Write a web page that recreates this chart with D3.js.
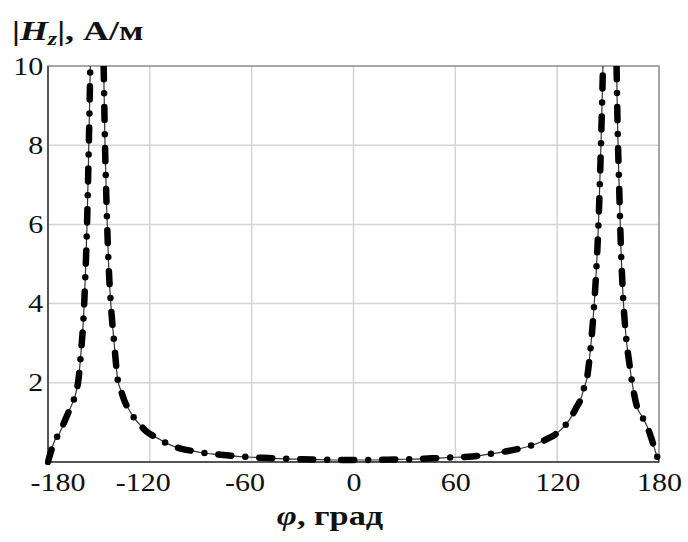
<!DOCTYPE html>
<html>
<head>
<meta charset="utf-8">
<script src="https://cdn.jsdelivr.net/npm/d3@7"></script>
<style>
  body { margin: 0; background: #fff; }
</style>
</head>
<body>
<script>
// angle, degrees (null in hz breaks the line at the poles)
const phi = [-180, -178, -176, -173.5, -171, -168, -165.5, -163.5, -162, -160.5, -159, -158, -157, -156.2, -155.5, -155.1,
  -151,
  -147.2, -146.5, -145.5, -144.3, -143, -141, -139, -137, -135, -132, -129, -125, -122, -118, -114, -110, -105, -100, -95, -90,
  -80, -70, -60, -50, -40, -30, -20, -10, 0, 10, 20, 30, 40, 50, 60, 70, 80, 90, 100, 110, 115, 119, 123, 127, 131, 134, 136,
  137.5, 139.5, 141.5, 143, 144.5, 145.8, 147,
  151,
  155, 155.6, 156.5, 157.5, 158.8, 160.5, 162.5, 164, 167, 170, 173, 175.5, 178, 180];
const hz = [0, 0.3, 0.55, 0.7, 0.95, 1.25, 1.5, 1.75, 2.1, 2.8, 3.7, 4.7, 6.0, 7.5, 9.0, 10,
  null,
  10, 8.2, 6.5, 5.0, 4.0, 3.0, 2.1, 1.8, 1.55, 1.3, 1.1, 0.9, 0.77, 0.66, 0.57, 0.47, 0.38, 0.32, 0.28, 0.24,
  0.19, 0.15, 0.12, 0.10, 0.08, 0.07, 0.06, 0.05, 0.05, 0.05, 0.06, 0.07, 0.08, 0.10, 0.12, 0.14, 0.2, 0.27, 0.36, 0.5, 0.6, 0.7, 0.85, 1.05, 1.35, 1.6, 1.9,
  2.1, 2.8, 3.8, 4.8, 6.2, 8.0, 10,
  null,
  10, 8.5, 7.0, 5.5, 4.2, 3.2, 2.5, 2.05, 1.4, 1.15, 0.9, 0.6, 0.25, 0];

const xTicks = [-180, -120, -60, 0, 60, 120, 180];
const yTicks = [2, 4, 6, 8, 10];

const FONT = '"Liberation Serif", Tinos, "DejaVu Serif", serif';
const W = 688, H = 542;
const margin = { top: 66, left: 48 };
const width = 659 - margin.left, height = 462 - margin.top;

const svg = d3.select('body').append('svg')
    .attr('width', W)
    .attr('height', H)
    .style('font-family', FONT);

const g = svg.append('g')
    .attr('transform', 'translate(' + margin.left + ',' + margin.top + ')');

const x = d3.scaleLinear().domain([-180, 180]).range([0, width]);
const y = d3.scaleLinear().domain([0, 10]).range([height, 0]);

// grid
g.selectAll('.gx').data(xTicks.slice(1, -1)).enter().append('line')
    .attr('x1', d => x(d)).attr('x2', d => x(d))
    .attr('y1', 0).attr('y2', height)
    .attr('stroke', '#d4d4d4').attr('stroke-width', 1.5);
g.selectAll('.gy').data(yTicks.slice(0, -1)).enter().append('line')
    .attr('x1', 0).attr('x2', width)
    .attr('y1', d => y(d)).attr('y2', d => y(d))
    .attr('stroke', '#d4d4d4').attr('stroke-width', 1.5);

// frame
g.append('rect')
    .attr('width', width).attr('height', height)
    .attr('fill', 'none').attr('stroke', '#8a8a8a').attr('stroke-width', 1.5);
g.append('line').attr('x1', 0).attr('x2', width).attr('y1', height).attr('y2', height)
    .attr('stroke', '#555').attr('stroke-width', 2);
g.append('line').attr('x1', 0).attr('x2', 0).attr('y1', 0).attr('y2', height)
    .attr('stroke', '#555').attr('stroke-width', 2);

// axes (labels only); the source image is stretched sideways, so text is too
const xAxis = g.append('g')
    .attr('transform', 'translate(0,' + height + ')')
    .call(d3.axisBottom(x).tickValues(xTicks).tickSize(0).tickPadding(11).tickFormat(d3.format('d')));
const yAxis = g.append('g')
    .call(d3.axisLeft(y).tickValues(yTicks).tickSize(0).tickPadding(4).tickFormat(d3.format('d')));
[xAxis, yAxis].forEach(a => {
  a.attr('font-family', FONT).attr('font-size', 25);
  a.select('.domain').remove();
  a.selectAll('text').attr('fill', '#111').attr('transform', 'scale(1.2,1)');
});
// negative labels sit with their digits on the tick; the first one is pushed inside
xAxis.selectAll('text')
    .text(d => d < 0 ? '-' + Math.abs(d) : d)
    .attr('dx', d => d === -180 ? 8 : (d < 0 ? -6 : 0));

// curve
svg.append('clipPath').attr('id', 'clip')
  .append('rect').attr('x', -3).attr('y', 0).attr('width', width + 6).attr('height', height + 3);

const pts = phi.map((p, i) => ({ p: p, v: hz[i] }));
const line = d3.line()
    .defined(d => d.v !== null)
    .x(d => x(d.p))
    .y(d => y(d.v))
    .curve(d3.curveMonotoneX);

const curves = g.append('g').attr('clip-path', 'url(#clip)');
curves.append('path')
    .attr('d', line(pts))
    .attr('fill', 'none')
    .attr('stroke', '#333')
    .attr('stroke-width', 1.2);
curves.append('path')
    .attr('d', line(pts))
    .attr('fill', 'none')
    .attr('stroke', '#000')
    .attr('stroke-width', 6.5)
    .attr('stroke-linecap', 'round')
    .attr('stroke-dasharray', '13 14 0 14');

// axis titles
const yt = svg.append('text')
    .attr('transform', 'translate(12,40) scale(1.33,1)')
    .attr('font-size', 27).attr('font-weight', 'bold').attr('fill', '#111');
yt.append('tspan').text('|');
yt.append('tspan').attr('font-style', 'italic').text('H');
yt.append('tspan').attr('font-style', 'italic').attr('font-size', 18).attr('dy', 5).text('z');
yt.append('tspan').attr('dy', -5).text('|, А/м');

const xt = svg.append('text')
    .attr('transform', 'translate(330,525) scale(1.27,1)')
    .attr('text-anchor', 'middle')
    .attr('font-size', 27).attr('font-weight', 'bold').attr('fill', '#111');
xt.append('tspan').attr('font-style', 'italic').text('φ');
xt.append('tspan').text(', град');
</script>
</body>
</html>
